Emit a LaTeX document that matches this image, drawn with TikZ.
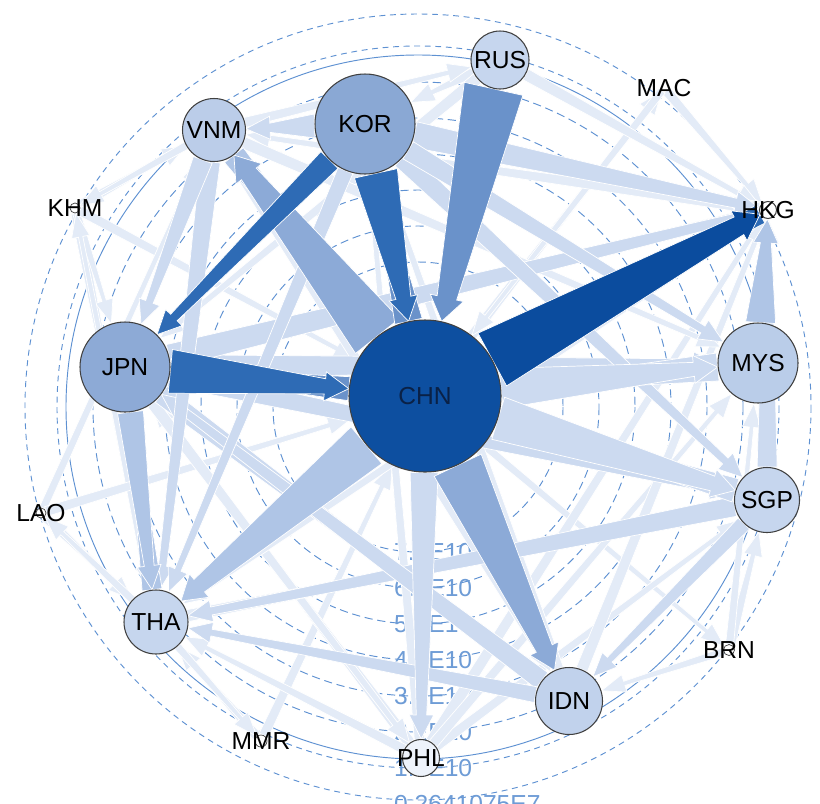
\documentclass[tikz,border=0pt]{standalone}
\usepackage{fontspec}
\setmainfont{Liberation Sans}
\usepackage{tikz}
\usetikzlibrary{calc,backgrounds}

% tapered arrow from node #1 to node #2, half width #3 (px), colour #4
\newcommand{\flow}[4]{%
  \path (#1) -- (#2) coordinate[pos=0] (fa) coordinate[pos=1] (fb);
  \coordinate (fh) at ($(fb)!0.72cm!(fa)$);
  \pgfmathsetlengthmacro{\fwa}{#3*0.03cm}%
  \pgfmathsetlengthmacro{\fwb}{(0.3*#3+1)*0.03cm}%
  \pgfmathsetlengthmacro{\fwc}{(0.3*#3+8)*0.03cm}%
  \fill[#4, draw=white, line width=0.6pt]
    ($(fa)!\fwa!90:(fb)$) -- ($(fh)!\fwb!90:(fb)$) -- ($(fh)!\fwc!90:(fb)$) -- (fb)
    -- ($(fh)!\fwc!-90:(fb)$) -- ($(fh)!\fwb!-90:(fb)$) -- ($(fa)!\fwa!-90:(fb)$) -- cycle;
}

\begin{document}
\begin{tikzpicture}[x=0.03cm, y=-0.03cm, font=\fontsize{21}{25}\selectfont,
    cty/.style={circle, draw=black!75, line width=0.9pt, inner sep=0pt, minimum size=#1*0.03cm},
    ring/.style={draw=cAxis, line width=0.8pt},
    axis/.style={anchor=west, text=cAxis!90}]
  % node and flow colours
  \definecolor{cCHN}{HTML}{0D4FA0}
  \definecolor{cNavy}{HTML}{0A2146}
  \definecolor{cJPN}{HTML}{8DAAD6}
  \definecolor{cKOR}{HTML}{8AA8D4}
  \definecolor{cVNM}{HTML}{BBCDE9}
  \definecolor{cMYS}{HTML}{BACDE9}
  \definecolor{cIDN}{HTML}{C1D2EC}
  \definecolor{cLight}{HTML}{C6D6EE}
  \definecolor{cPale}{HTML}{EEF3FB}
  \definecolor{cAxis}{HTML}{5E91D2}
  \definecolor{flow1}{HTML}{0B4C9E}
  \definecolor{flow2}{HTML}{2E6BB5}
  \definecolor{flow3}{HTML}{6A92CA}
  \definecolor{flow4}{HTML}{8CAAD7}
  \definecolor{flow5}{HTML}{AFC5E6}
  \definecolor{flow6}{HTML}{CCDAF0}
  \definecolor{flow7}{HTML}{E3EBF7}

  \useasboundingbox (0,0) rectangle (820,803);
  \coordinate (ctr) at (418,407);

  % countries
  \node[cty=152, fill=cCHN, text=cNavy] (CHN) at (425,396) {CHN};
  \node[cty=90, fill=cJPN] (JPN) at (125,367) {JPN};
  \node[cty=100, fill=cKOR] (KOR) at (365,124) {KOR};
  \node[cty=63, fill=cVNM] (VNM) at (214,130) {VNM};
  \node[cty=58, fill=cLight] (RUS) at (500,60) {RUS};
  \node[cty=80, fill=cMYS] (MYS) at (758,363) {MYS};
  \node[cty=65, fill=cLight] (SGP) at (767,500) {SGP};
  \node[cty=67, fill=cIDN] (IDN) at (569,701) {IDN};
  \node[cty=64, fill=cLight] (THA) at (156,622) {THA};
  \node[cty=37, fill=cPale, label=center:PHL] (PHL) at (421,758) {};
  \node[cty=17, fill=white, label=center:HKG] (HKG) at (768,210) {};
  \node[cty=10, fill=white, line width=0.6pt, label=center:KHM] (KHM) at (75,208) {};
  \node[cty=10, fill=white, line width=0.6pt, label=center:LAO] (LAO) at (41,513) {};
  \node[cty=12, fill=white, line width=0.6pt, label=center:MMR] (MMR) at (261,741) {};
  \node[cty=11, fill=white, line width=0.6pt, label=center:BRN] (BRN) at (729,650) {};
  \node[cty=6, draw=none, label=center:MAC] (MAC) at (664,88) {};

  \begin{pgfonlayer}{background}
    \fill[white] (0,0) rectangle (820,803);
    % value rings
    \draw[ring, dash pattern=on 5pt off 4pt] (ctr) circle (393);
    \draw[ring, dash pattern=on 5pt off 4pt] (ctr) circle (361);
    \draw[ring] (ctr) circle (352);
    \draw[ring, dash pattern=on 7pt off 4pt] (ctr) circle (325);
    \draw[ring, dash pattern=on 7pt off 4pt] (ctr) circle (289);
    \draw[ring, dash pattern=on 7pt off 4pt] (ctr) circle (253);
    \draw[ring, dash pattern=on 7pt off 4pt] (ctr) circle (217);
    \draw[ring, dash pattern=on 7pt off 4pt] (ctr) circle (181);
    \draw[ring, dash pattern=on 7pt off 4pt] (ctr) circle (145);
    \node[axis] (v7) at (390,552) {7.7E10};
    \node[axis] (v6) at (390,588) {6.6E10};
    \node[axis] (v5) at (390,624) {5.5E10};
    \node[axis] (v4) at (390,660) {4.4E10};
    \node[axis] (v3) at (390,696) {3.3E10};
    \node[axis] (v2) at (390,732) {2.2E10};
    \node[axis] (v1) at (390,768) {1.1E10};
    \node[axis] (v0) at (390,804) {0.2641075E7};

    % faint flows
    \flow{KHM}{THA}{5}{flow7}
    \flow{KHM}{VNM}{5}{flow7}
    \flow{KHM}{JPN}{4}{flow7}
    \flow{KHM}{CHN}{5}{flow7}
    \flow{VNM}{KHM}{4}{flow7}
    \flow{THA}{KHM}{4}{flow7}
    \flow{LAO}{THA}{5}{flow7}
    \flow{LAO}{VNM}{4}{flow7}
    \flow{LAO}{CHN}{5}{flow7}
    \flow{THA}{LAO}{4}{flow7}
    \flow{MMR}{THA}{5}{flow7}
    \flow{MMR}{CHN}{5}{flow7}
    \flow{THA}{MMR}{4}{flow7}
    \flow{BRN}{SGP}{5}{flow7}
    \flow{BRN}{MYS}{4}{flow7}
    \flow{BRN}{IDN}{4}{flow7}
    \flow{CHN}{BRN}{4}{flow7}
    \flow{MAC}{HKG}{5}{flow7}
    \flow{CHN}{MAC}{5}{flow7}
    \flow{MAC}{CHN}{4}{flow7}
    \flow{PHL}{JPN}{6}{flow7}
    \flow{PHL}{KOR}{5}{flow7}
    \flow{PHL}{HKG}{6}{flow7}
    \flow{PHL}{THA}{5}{flow7}
    \flow{PHL}{SGP}{5}{flow7}
    \flow{PHL}{MYS}{5}{flow7}
    \flow{JPN}{PHL}{6}{flow7}
    \flow{RUS}{KOR}{5}{flow7}
    \flow{RUS}{JPN}{6}{flow7}
    \flow{RUS}{HKG}{6}{flow7}
    \flow{VNM}{RUS}{5}{flow7}
    \flow{HKG}{JPN}{6}{flow7}
    \flow{HKG}{KOR}{6}{flow7}
    \flow{HKG}{THA}{6}{flow7}
    \flow{HKG}{VNM}{6}{flow7}
    \flow{IDN}{KOR}{6}{flow7}
    \flow{IDN}{HKG}{6}{flow7}
    \flow{THA}{SGP}{6}{flow7}
    \flow{VNM}{MYS}{6}{flow7}
    \flow{VNM}{IDN}{6}{flow7}

    % light flows
    \flow{JPN}{MYS}{12}{flow6}
    \flow{JPN}{HKG}{12}{flow6}
    \flow{KOR}{HKG}{13}{flow6}
    \flow{JPN}{SGP}{10}{flow6}
    \flow{JPN}{IDN}{10}{flow6}
    \flow{KOR}{SGP}{10}{flow6}
    \flow{KOR}{MYS}{10}{flow6}
    \flow{SGP}{THA}{10}{flow6}
    \flow{IDN}{JPN}{10}{flow6}
    \flow{IDN}{THA}{8}{flow6}
    \flow{SGP}{IDN}{8}{flow6}
    \flow{VNM}{THA}{10}{flow6}
    \flow{VNM}{JPN}{10}{flow6}
    \flow{KOR}{VNM}{12}{flow6}
    \flow{KOR}{THA}{8}{flow6}
    \flow{SGP}{HKG}{10}{flow6}
    \flow{CHN}{PHL}{14}{flow6}
    \flow{MYS}{CHN}{14}{flow6}
    \flow{SGP}{CHN}{12}{flow6}
    \flow{CHN}{MYS}{20}{flow6}
    \flow{CHN}{SGP}{22}{flow6}

    % medium flows
    \flow{THA}{JPN}{10}{flow5}
    \flow{JPN}{THA}{13}{flow5}
    \flow{MYS}{HKG}{15}{flow5}
    \flow{VNM}{CHN}{12}{flow5}
    \flow{CHN}{THA}{24}{flow5}
    \flow{CHN}{VNM}{28}{flow4}
    \flow{CHN}{IDN}{26}{flow4}
    \flow{RUS}{CHN}{30}{flow3}
    \flow{CHN}{KOR}{14}{flow3}
    \flow{CHN}{JPN}{12}{flow3}

    % strong flows
    \flow{KOR}{JPN}{12}{flow2}
    \flow{KOR}{CHN}{22}{flow2}
    \flow{JPN}{CHN}{22}{flow2}
    \flow{HKG}{CHN}{10}{flow2}
    \flow{CHN}{HKG}{30}{flow1}
  \end{pgfonlayer}
\end{tikzpicture}
\end{document}
